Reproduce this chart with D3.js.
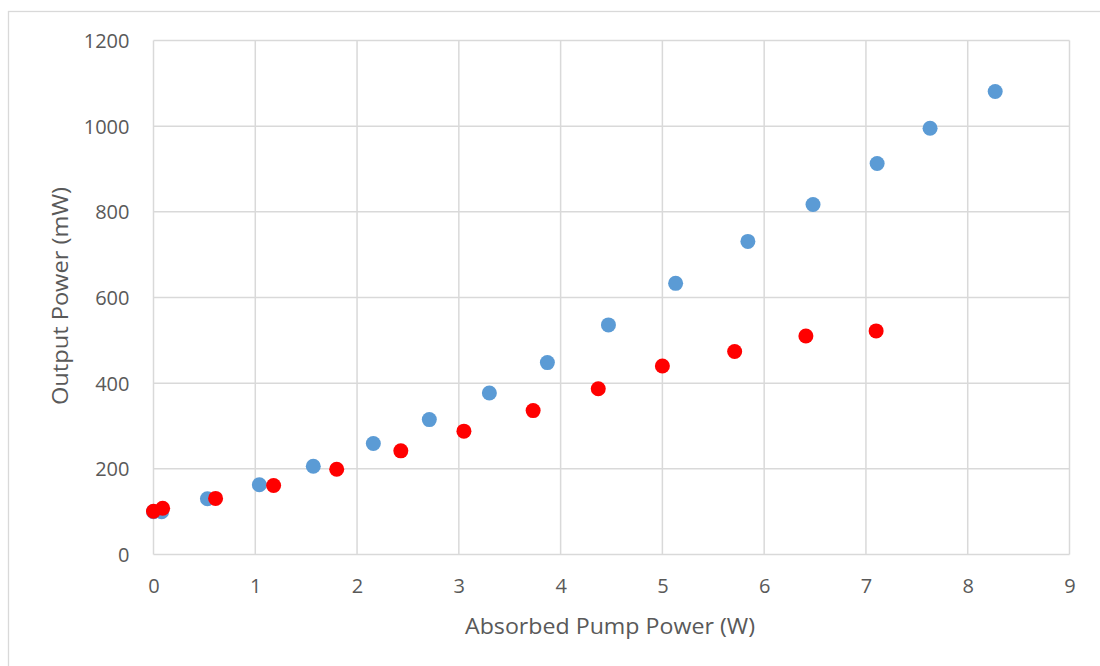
<!DOCTYPE html>
<html>
<head>
<meta charset="utf-8">
<script src="https://cdn.jsdelivr.net/npm/d3@7"></script>
<style>
  html, body { margin: 0; padding: 0; background: #fff; }
  svg { display: block; }
</style>
</head>
<body>
<svg id="chart" width="1100" height="666"></svg>
<script>
// Absorbed pump power (W) and output power (mW) for the two measured series
const blueX = [0, 0.08, 0.53, 1.04, 1.57, 2.16, 2.71, 3.30, 3.87, 4.47, 5.13, 5.84, 6.48, 7.11, 7.63, 8.27];
const blueY = [100, 100, 130, 163, 206, 259, 315, 377, 448, 536, 633, 731, 817, 913, 995, 1081];
const redX = [0, 0.09, 0.61, 1.18, 1.80, 2.43, 3.05, 3.73, 4.37, 5.00, 5.71, 6.41, 7.10];
const redY = [101, 108, 131, 161, 199, 242, 288, 336, 387, 440, 474, 510, 522];

const xTicks = [0, 1, 2, 3, 4, 5, 6, 7, 8, 9];
const yTicks = [0, 200, 400, 600, 800, 1000, 1200];

const xTitle = "Absorbed Pump Power (W)";
const yTitle = "Output Power (mW)";

const svg = d3.select("#chart");
const W = 1100, H = 666;
const margin = { left: 153.5, top: 40.5, right: W - 1069.5, bottom: H - 554.5 };
const font = "'Open Sans', 'Segoe UI', sans-serif";
const gridColor = "#d9d9d9";
const textColor = "#595959";

// chart frame
svg.append("rect")
  .attr("x", 8.5).attr("y", 11.5)
  .attr("width", W).attr("height", H)
  .attr("fill", "#fff")
  .attr("stroke", "#d9d9d9").attr("stroke-width", 1.3);

const x = d3.scaleLinear().domain([0, 9]).range([margin.left, W - margin.right]);
const y = d3.scaleLinear().domain([0, 1200]).range([H - margin.bottom, margin.top]);

// gridlines
svg.append("g")
  .selectAll("line.v").data(xTicks).join("line")
  .attr("x1", d => x(d)).attr("x2", d => x(d))
  .attr("y1", y(0)).attr("y2", y(1200))
  .attr("stroke", gridColor).attr("stroke-width", 1.5);

svg.append("g")
  .selectAll("line.h").data(yTicks).join("line")
  .attr("x1", x(0)).attr("x2", x(9))
  .attr("y1", d => y(d)).attr("y2", d => y(d))
  .attr("stroke", gridColor).attr("stroke-width", 1.5);

// axes (labels only; the gridlines carry the lines)
const xAxis = svg.append("g")
  .attr("transform", `translate(0,${y(0)})`)
  .call(d3.axisBottom(x).tickValues(xTicks).tickSize(0).tickPadding(24).tickFormat(d3.format("d")));
const yAxis = svg.append("g")
  .attr("transform", `translate(${x(0)},0)`)
  .call(d3.axisLeft(y).tickValues(yTicks).tickSize(0).tickPadding(24).tickFormat(d3.format("d")));

[xAxis, yAxis].forEach(a => {
  a.select(".domain").remove();
  a.selectAll("text")
    .attr("fill", textColor)
    .style("font-family", font)
    .style("font-size", "20px");
});
yAxis.selectAll("text").attr("dy", "0.35em");

// axis titles
svg.append("text")
  .attr("x", 610).attr("y", 634)
  .attr("text-anchor", "middle")
  .attr("fill", textColor)
  .attr("textLength", 290).attr("lengthAdjust", "spacingAndGlyphs")
  .style("font-family", font).style("font-size", "22px")
  .text(xTitle);

svg.append("text")
  .attr("transform", `translate(68,296) rotate(-90)`)
  .attr("text-anchor", "middle")
  .attr("fill", textColor)
  .attr("textLength", 218).attr("lengthAdjust", "spacingAndGlyphs")
  .style("font-family", font).style("font-size", "22px")
  .text(yTitle);

// markers
const blue = blueX.map((v, i) => [v, blueY[i]]);
const red = redX.map((v, i) => [v, redY[i]]);

svg.append("g").selectAll("circle").data(blue).join("circle")
  .attr("cx", d => x(d[0])).attr("cy", d => y(d[1]))
  .attr("r", 7.5).attr("fill", "#5b9bd5");

svg.append("g").selectAll("circle").data(red).join("circle")
  .attr("cx", d => x(d[0])).attr("cy", d => y(d[1]))
  .attr("r", 7.5).attr("fill", "#ff0000");
</script>
</body>
</html>
